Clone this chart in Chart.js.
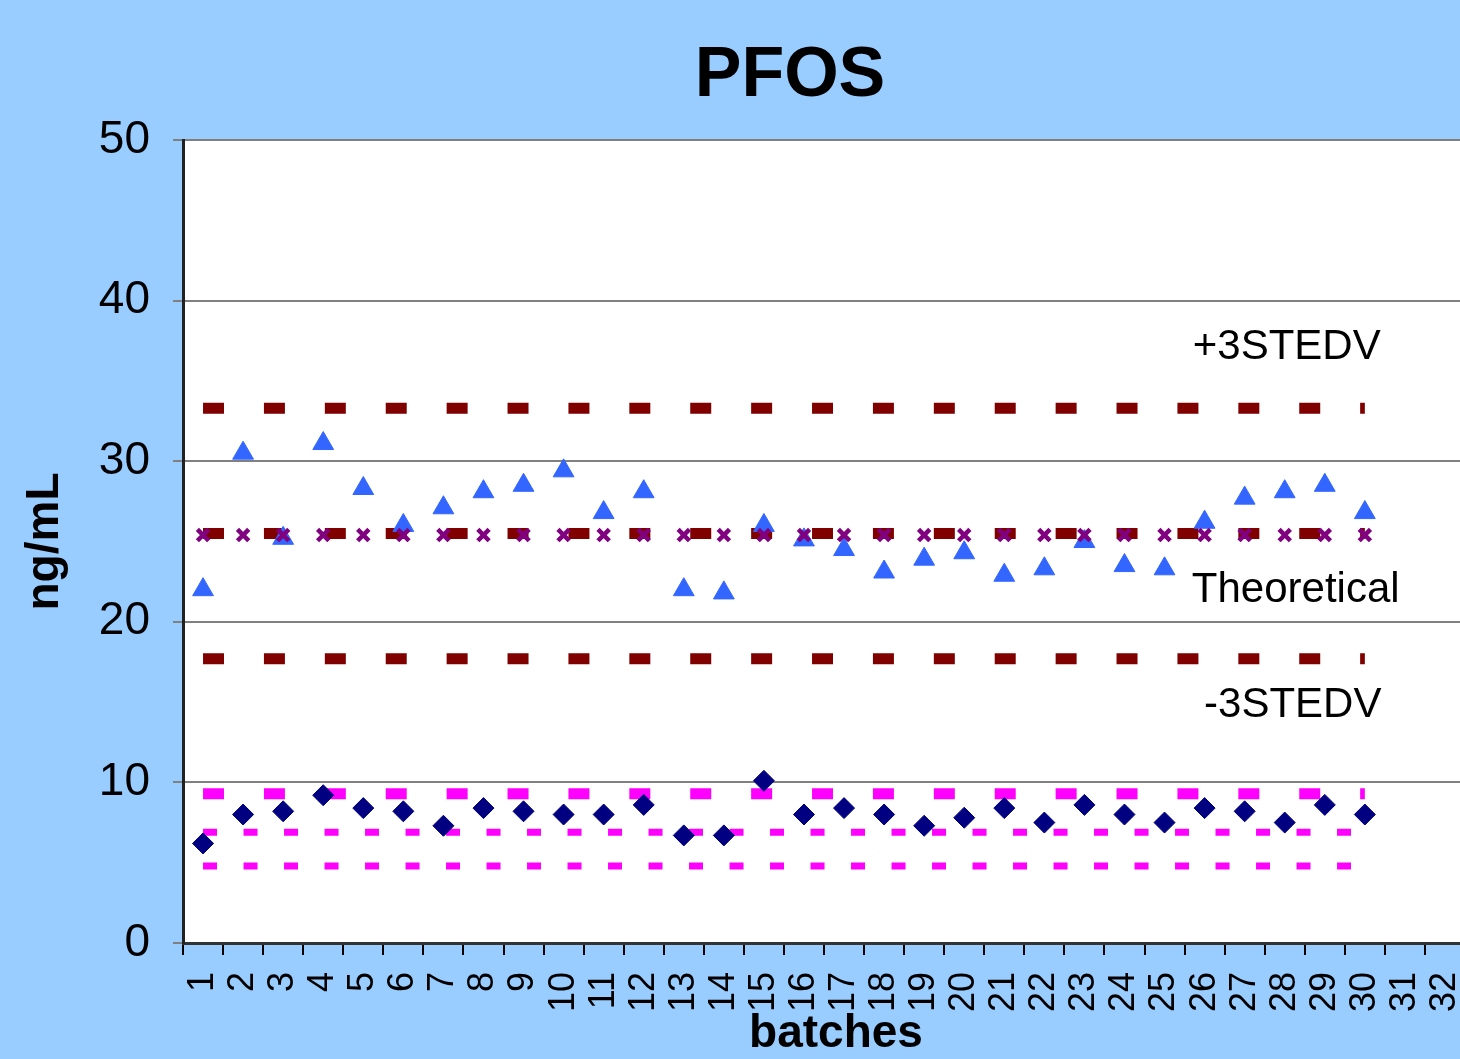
<!DOCTYPE html>
<html lang="en">
<head>
<meta charset="UTF-8">
<title>PFOS</title>
<script src="https://cdn.jsdelivr.net/npm/chart.js"></script>
<style>
  html, body { margin: 0; padding: 0; overflow: hidden; background: #99CCFF; }
  canvas { display: block; }
</style>
</head>
<body>
<canvas id="chart" width="1478" height="1059"></canvas>
<script>
    // batches on the x axis
    const batches = ['1','2','3','4','5','6','7','8','9','10','11','12','13','14','15','16',
                     '17','18','19','20','21','22','23','24','25','26','27','28','29','30','31','32'];

    // high level QC results (triangles)
    const highQC = [22.0, 30.5, 25.2, 31.1, 28.3, 26.0, 27.1, 28.1, 28.5, 29.4,
                    26.8, 28.1, 22.0, 21.8, 26.0, 25.1, 24.5, 23.1, 23.9, 24.3,
                    22.9, 23.3, 25.0, 23.5, 23.3, 26.2, 27.7, 28.1, 28.5, 26.8];

    // low level QC results (diamonds)
    const lowQC = [6.2, 8.0, 8.2, 9.2, 8.4, 8.2, 7.3, 8.4, 8.2, 8.0,
                   8.0, 8.6, 6.7, 6.7, 10.1, 8.0, 8.4, 8.0, 7.3, 7.8,
                   8.4, 7.5, 8.6, 8.0, 7.5, 8.4, 8.2, 7.5, 8.6, 8.0];

    // theoretical value markers
    const theoretical = [25.4, 25.4, 25.4, 25.4, 25.4, 25.4, 25.4, 25.4, 25.4, 25.4,
                         25.4, 25.4, 25.4, 25.4, 25.4, 25.4, 25.4, 25.4, 25.4, 25.4,
                         25.4, 25.4, 25.4, 25.4, 25.4, 25.4, 25.4, 25.4, 25.4, 25.4];

    // control lines (drawn from first to last batch)
    const lineStart = '1', lineEnd = '30';
    const highLimits = [33.3, 25.5, 17.7];   // +3SD, mean, -3SD
    const lowMean = [9.3];
    const lowLimits = [6.9, 4.8];

    const yTicks = [0, 10, 20, 30, 40, 50];

    const titleText = 'PFOS';
    const xTitle = 'batches';
    const annoText = ['+3STEDV', 'Theoretical', '-3STEDV'];
    const annoY = [37.1, 21.95, 14.8];

    const FONT = 'Arial, "Liberation Sans", sans-serif';
    Chart.defaults.font.family = FONT;
    Chart.defaults.color = '#000';

    function seg(v) {
        return [{ x: lineStart, y: v }, { x: lineEnd, y: v }];
    }

    const datasets = [];
    datasets.push({
        label: 'Theoretical', data: theoretical, showLine: false, order: 0,
        pointStyle: 'crossRot', pointRadius: 8, pointHoverRadius: 8,
        borderColor: '#800080', backgroundColor: '#800080', pointBorderWidth: 4.5
    });
    datasets.push({
        label: 'High', data: highQC, showLine: false, order: 1,
        pointStyle: 'triangle', pointRadius: 12, pointHoverRadius: 12,
        borderColor: '#3366FF', backgroundColor: '#3366FF', pointBorderWidth: 1
    });
    datasets.push({
        label: 'Low', data: lowQC, showLine: false, order: 1,
        pointStyle: 'rectRot', pointRadius: 10.5, pointHoverRadius: 10.5,
        borderColor: '#000080', backgroundColor: '#000080', pointBorderWidth: 1
    });
    highLimits.forEach(v => datasets.push({
        data: seg(v), order: 3, borderColor: '#800000', borderWidth: 11,
        borderDash: [21, 39.9], borderCapStyle: 'butt', pointRadius: 0, fill: false
    }));
    lowMean.forEach(v => datasets.push({
        data: seg(v), order: 3, borderColor: '#FF00FF', borderWidth: 11,
        borderDash: [21, 39.9], borderCapStyle: 'butt', pointRadius: 0, fill: false
    }));
    lowLimits.forEach(v => datasets.push({
        data: seg(v), order: 3, borderColor: '#FF00FF', borderWidth: 7,
        borderDash: [14, 26.5], borderCapStyle: 'butt', pointRadius: 0, fill: false
    }));

    const plotBg = {
        id: 'plotBg',
        beforeDraw(chart) {
            const { ctx, chartArea: a } = chart;
            ctx.save();
            ctx.fillStyle = '#fff';
            ctx.fillRect(a.left, a.top, a.right - a.left, a.bottom - a.top);
            ctx.restore();
        }
    };

    const texts = {
        id: 'texts',
        afterDraw(chart) {
            const { ctx } = chart;
            const xs = chart.scales.x, ys = chart.scales.y;
            ctx.save();
            ctx.fillStyle = '#000';
            ctx.textAlign = 'center';
            ctx.textBaseline = 'middle';
            ctx.font = 'bold 70px ' + FONT;
            ctx.fillText(titleText, 790, 77);
            ctx.font = 'bold 46px ' + FONT;
            ctx.fillText(xTitle, 836, 1034);
            ctx.font = '42px ' + FONT;
            const cx = xs.getPixelForValue(27);
            const dx = [2, 11, 8];
            annoText.forEach((t, i) => ctx.fillText(t, cx + dx[i], ys.getPixelForValue(annoY[i])));
            ctx.restore();
        }
    };

    new Chart(document.getElementById('chart'), {
        type: 'line',
        data: { labels: batches, datasets: datasets },
        options: {
            responsive: false,
            animation: false,
            devicePixelRatio: 1,
            layout: { padding: { top: 140, left: 0, right: 0, bottom: 0 } },
            plugins: { legend: { display: false }, tooltip: { enabled: false } },
            scales: {
                x: {
                    type: 'category',
                    offset: true,
                    grid: { display: true, drawOnChartArea: false, offset: true, tickLength: 12, color: '#000', lineWidth: 2 },
                    border: { display: true, color: '#333', width: 3 },
                    ticks: { autoSkip: false, maxRotation: 90, minRotation: 90, padding: 17, font: { size: 36 }, color: '#000' },
                    title: { display: false },
                    afterFit(s) { s.height = 116; s.paddingLeft = 0; s.paddingRight = 0; }
                },
                y: {
                    min: 0, max: 50,
                    afterBuildTicks(s) { s.ticks = yTicks.map(v => ({ value: v })); },
                    grid: { color: '#808080', lineWidth: 2, tickLength: 10 },
                    border: { display: true, color: '#222', width: 3 },
                    ticks: { padding: 23, font: { size: 46 }, color: '#000' },
                    title: { display: true, text: 'ng/mL', font: { size: 46, weight: 'bold' }, padding: { top: 18, bottom: 0 } },
                    afterFit(s) { s.width = 183; s.paddingTop = 0; s.paddingBottom = 0; }
                }
            }
        },
        plugins: [plotBg, texts]
    });
</script>
</body>
</html>
